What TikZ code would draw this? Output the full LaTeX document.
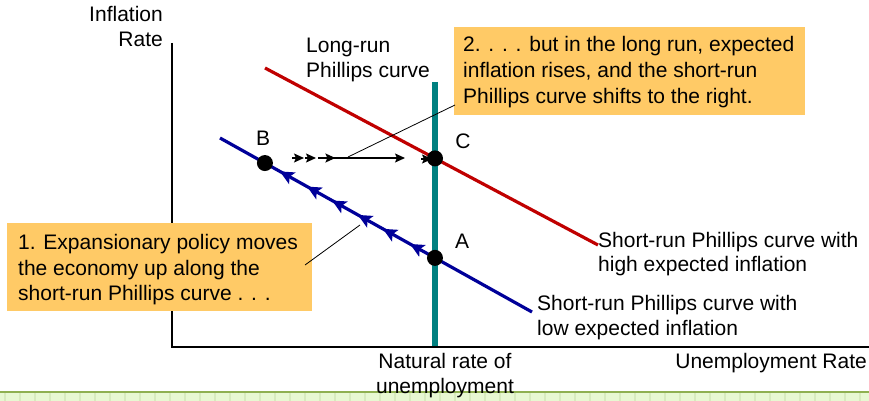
\documentclass[tikz,border=0pt]{standalone}
\usepackage{fontspec}
\setmainfont{Liberation Sans}
\usetikzlibrary{arrows.meta,decorations.markings,calc}
\definecolor{srred}{HTML}{C00000}
\definecolor{srblue}{HTML}{000099}
\definecolor{lrteal}{HTML}{008080}
\definecolor{notefill}{HTML}{FFCA66}
\definecolor{stripline}{HTML}{8FB050}
\definecolor{stripfill}{HTML}{E8F8D2}
\definecolor{stripgrid}{HTML}{D8EBBE}
\begin{document}
\begin{tikzpicture}[x=1pt,y=-1pt,
  txt/.style={font=\fontsize{21}{25}\selectfont, inner sep=0pt, anchor=base west},
  txtr/.style={txt, anchor=base east},
  txtc/.style={txt, anchor=base},
  ptlabel/.style={font=\fontsize{21}{25}\selectfont, inner sep=0pt, anchor=center},
  notebox/.style={fill=notefill, draw=none, anchor=north west, inner sep=0pt},
  dotpt/.style={fill=black},
  pointer/.style={line width=0.8pt, black},
  head/.style={-{Stealth[length=10pt,width=9pt,inset=2pt]}},
  blueheads/.style={decoration={markings,
     mark=at position 0.192 with {\arrowreversed{Stealth[length=14pt,width=13pt,inset=3pt]}},
     mark=at position 0.279 with {\arrowreversed{Stealth[length=14pt,width=13pt,inset=3pt]}},
     mark=at position 0.359 with {\arrowreversed{Stealth[length=14pt,width=13pt,inset=3pt]}},
     mark=at position 0.442 with {\arrowreversed{Stealth[length=14pt,width=13pt,inset=3pt]}},
     mark=at position 0.522 with {\arrowreversed{Stealth[length=14pt,width=13pt,inset=3pt]}},
     mark=at position 0.609 with {\arrowreversed{Stealth[length=14pt,width=13pt,inset=3pt]}}},
     postaction={decorate}}
]
\useasboundingbox (0,0) rectangle (869,401);

% bottom strip
\fill[stripfill] (0,392) rectangle (869,401);
\foreach \i in {0,...,57} \draw[stripgrid, line width=1.2pt] (5+15*\i,393) -- (5+15*\i,401);
\draw[stripline, line width=2pt] (0,392) -- (869,392);

% long-run curve
\coordinate (lrtop) at (435,82);
\coordinate (lrbot) at (435,347);
\draw[lrteal, line width=6pt] (lrtop) -- (lrbot);

% axes
\coordinate (ytop) at (172,43);
\coordinate (origin) at (172,347);
\coordinate (xend) at (869,347);
\draw[line width=2.6pt] (ytop) -- (origin) -- (xend);

% callout boxes
\node[notebox, minimum width=305pt, minimum height=88pt] (note1) at (7,223) {};
\node[notebox, minimum width=351pt, minimum height=88pt] (note2) at (454,27) {};

% short-run curves
\coordinate (r1) at (265,68);
\coordinate (r2) at (598,245);
\coordinate (b1) at (220,138);
\coordinate (b2) at (532,312);
\draw[srred, line width=3.2pt] (r1) -- (r2);
\draw[srblue, line width=3.2pt, blueheads] (b1) -- (b2);

\path (r1) -- (r2) coordinate[pos=0.5105] (C);
\path (b1) -- (b2) coordinate[pos=0.689] (A) coordinate[pos=0.144] (B);

% horizontal shift arrows
\coordinate (s1a) at (292,158); \coordinate (s1b) at (304,158);
\coordinate (s2a) at (305,158); \coordinate (s2b) at (316,158);
\coordinate (h0) at (318,158); \coordinate (h1) at (405,158);
\coordinate (s3a) at (421,159); \coordinate (s3b) at (432,159);
\draw[line width=1.3pt, head] (s1a) -- (s1b);
\draw[line width=1.3pt, head] (s2a) -- (s2b);
\draw[line width=1.3pt, head, decoration={markings, mark=at position 0.2 with {\arrow{Stealth[length=10pt,width=9pt,inset=2pt]}}}, postaction={decorate}] (h0) -- (h1);
\draw[line width=1.3pt, head] (s3a) -- (s3b);

% points
\fill[dotpt] (A) circle (8pt);
\fill[dotpt] (B) circle (8pt);
\fill[dotpt] (C) circle (8pt);
\node[ptlabel] (labB) at (263,138) {B};
\node[ptlabel] (labC) at (463,141) {C};
\node[ptlabel] (labA) at (462,241) {A};

% pointers
\coordinate (p1a) at (305,265); \coordinate (p1b) at (360,225);
\coordinate (p2a) at (348,157); \coordinate (p2b) at (455,105);
\draw[pointer] (p1a) -- (p1b);
\draw[pointer] (p2a) -- (p2b);

% texts
\node[txtr] (yl1) at (163,22) {Inflation};
\node[txtr] (yl2) at (163,47) {Rate};
\node[txt] (lr1) at (306,53) {Long-run};
\node[txt] (lr2) at (306,78) {Phillips curve};

\node[txt] (n2a) at (463,52) {2. . . . but in the long run, expected};
\node[txt] (n2b) at (463,78) {inflation rises, and the short-run};
\node[txt] (n2c) at (463,104) {Phillips curve shifts to the right.};

\node[txt] (n1a) at (18,249) {1. Expansionary policy moves};
\node[txt] (n1b) at (18,275) {the economy up along the};
\node[txt] (n1c) at (18,300) {short-run Phillips curve . . .};

\node[txt] (hi1) at (598,247) {Short-run Phillips curve with};
\node[txt] (hi2) at (598,271) {high expected inflation};
\node[txt] (lo1) at (537,310) {Short-run Phillips curve with};
\node[txt] (lo2) at (537,335) {low expected inflation};

\node[txtc] (nr1) at (445,368) {Natural rate of};
\node[txtc] (nr2) at (445,393) {unemployment};
\node[txtr] (xl) at (867,368) {Unemployment Rate};
\end{tikzpicture}
\end{document}
